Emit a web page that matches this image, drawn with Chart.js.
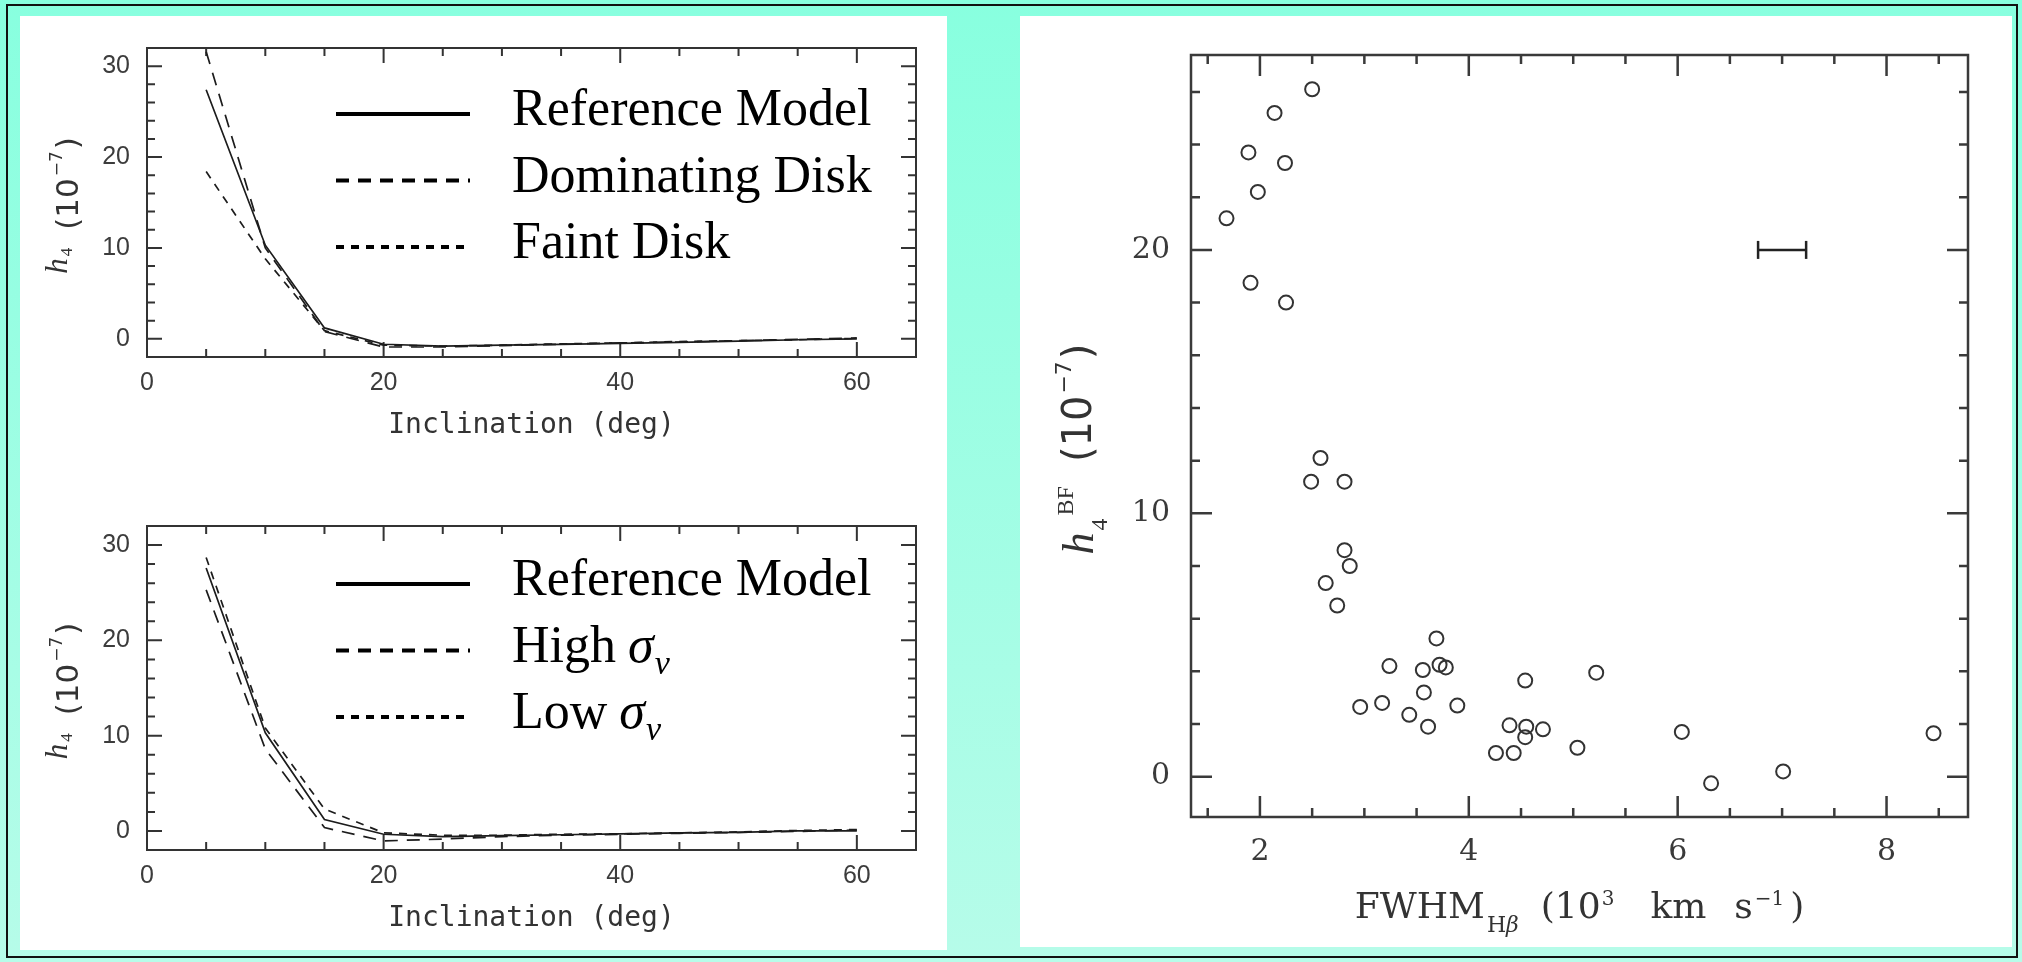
<!DOCTYPE html>
<html><head><meta charset="utf-8">
<script src="https://cdn.jsdelivr.net/npm/chart.js@4.4.0/dist/chart.umd.min.js"></script>
<style>
html,body{margin:0;padding:0;}
body{width:2022px;height:962px;position:relative;overflow:hidden;background:linear-gradient(to bottom,#88FFDF 0%,#B6FCE9 100%);}
#frame{position:absolute;left:6px;top:4px;width:2012px;height:954px;border:2px solid #111;box-sizing:border-box;}
.panel{position:absolute;background:#fff;}
#p1{left:20px;top:16px;width:927px;height:934px;}
#p2{left:1020px;top:16px;width:992px;height:931px;}
canvas{position:absolute;left:0;}
</style></head>
<body>
<div id="frame"></div>
<div class="panel" id="p1">
  <canvas id="c1" width="927" height="464" style="top:0;width:927px;height:464px"></canvas>
  <canvas id="c2" width="927" height="470" style="top:464px;width:927px;height:470px"></canvas>
</div>
<div class="panel" id="p2">
  <canvas id="c3" width="992" height="931" style="top:0;width:992px;height:931px"></canvas>
</div>
<script>
// ---------------- DATA ----------------
const inclination = [5, 10, 15, 20, 25, 30, 35, 40, 45, 50, 55, 60];
const refModelTop  = [27.4, 10.3, 1.2, -0.6, -0.8, -0.7, -0.6, -0.5, -0.4, -0.25, -0.1, 0.0];
const domDisk      = [31.6, 10.0, 0.8, -0.9, -0.9, -0.75, -0.6, -0.45, -0.35, -0.2, -0.05, 0.1];
const faintDisk    = [18.4, 8.8, 0.9, -0.7, -0.8, -0.7, -0.55, -0.45, -0.3, -0.2, -0.1, 0.05];
const refModelBot  = [27.6, 10.3, 1.2, -0.35, -0.6, -0.5, -0.4, -0.3, -0.2, -0.15, 0.0, 0.0];
const highSigma    = [25.3, 8.6, 0.35, -1.05, -0.85, -0.6, -0.45, -0.35, -0.25, -0.15, -0.05, 0.1];
const lowSigma     = [28.7, 10.8, 2.3, -0.2, -0.45, -0.45, -0.35, -0.3, -0.2, -0.1, 0.05, 0.15];
const inclTicks = [0, 20, 40, 60];
const h4Ticks = [0, 10, 20, 30];

const fwhm = [2.50, 2.14, 1.89, 2.24, 1.98, 1.68, 1.91, 2.25, 2.58, 2.49, 2.81, 2.81, 2.86, 2.63, 2.74,
              3.69, 3.24, 3.56, 3.72, 3.78, 5.22, 4.54, 3.57, 2.96, 3.17, 3.89, 3.43, 3.61, 4.39, 4.55,
              4.71, 4.54, 4.26, 4.43, 5.04, 6.04, 8.45, 6.32, 7.01];
const h4bf = [26.1, 25.2, 23.7, 23.3, 22.2, 21.2, 18.75, 18.0, 12.1, 11.2, 11.2, 8.6, 8.0, 7.35, 6.5,
              5.25, 4.2, 4.05, 4.25, 4.15, 3.95, 3.65, 3.2, 2.65, 2.8, 2.7, 2.35, 1.9, 1.95, 1.9,
              1.8, 1.5, 0.9, 0.9, 1.1, 1.7, 1.65, -0.25, 0.2];
const fwhmTicks = [2, 4, 6, 8];
const h4bfTicks = [0, 10, 20];
const errBarX = [6.77, 7.23];
const errBarY = [20, 20];

// ---------------- HELPERS ----------------
function drawRich(ctx, pieces, x, y, rotate) {
  let total = 0;
  const ws = pieces.map(p => { ctx.font = p.f; const w = ctx.measureText(p.t).width; total += (p.gap || 0) + w; return w; });
  ctx.save();
  ctx.translate(x, y);
  if (rotate) ctx.rotate(-Math.PI / 2);
  ctx.textBaseline = 'alphabetic';
  ctx.textAlign = 'left';
  let cx = -total / 2;
  pieces.forEach((p, i) => {
    cx += (p.gap || 0);
    ctx.font = p.f;
    ctx.fillText(p.t, cx, p.dy || 0);
    cx += ws[i];
  });
  ctx.restore();
}

const frameTicks = {
  id: 'frameTicks',
  beforeDatasetsDraw(chart, args, o) {
    const { ctx, chartArea: a, scales: { x, y } } = chart;
    ctx.save();
    ctx.strokeStyle = o.color;
    ctx.lineWidth = o.width;
    ctx.lineCap = 'butt';
    ctx.strokeRect(a.left, a.top, a.right - a.left, a.bottom - a.top);
    const isMajor = (list, v) => list.some(m => Math.abs(m - v) < 1e-6);
    ctx.beginPath();
    for (let k = Math.ceil(x.min / o.xMinor - 1e-9); k * o.xMinor <= x.max + 1e-9; k++) {
      const v = k * o.xMinor, px = x.getPixelForValue(v);
      const len = isMajor(o.xMajor, v) ? o.majorLen : o.minorLen;
      ctx.moveTo(px, a.bottom); ctx.lineTo(px, a.bottom - len);
      ctx.moveTo(px, a.top); ctx.lineTo(px, a.top + len);
    }
    for (let k = Math.ceil(y.min / o.yMinor - 1e-9); k * o.yMinor <= y.max + 1e-9; k++) {
      const v = k * o.yMinor, py = y.getPixelForValue(v);
      const len = isMajor(o.yMajor, v) ? o.majorLen : o.minorLen;
      ctx.moveTo(a.left, py); ctx.lineTo(a.left + len, py);
      ctx.moveTo(a.right, py); ctx.lineTo(a.right - len, py);
    }
    ctx.stroke();
    ctx.restore();
  },
  afterDraw(chart, args, o) {
    const { ctx, chartArea: a } = chart;
    ctx.save();
    ctx.fillStyle = o.titleColor;
    if (o.xTitle) drawRich(ctx, o.xTitle, (a.left + a.right) / 2, a.bottom + o.xTitleOffset, false);
    if (o.yTitle) drawRich(ctx, o.yTitle, a.left - o.yTitleOffset, (a.top + a.bottom) / 2 + o.yTitleShift, true);
    if (o.legend) {
      const L = o.legend;
      chart.data.datasets.forEach((ds, i) => {
        const ly = a.top + L.top + i * L.step;
        ctx.save();
        ctx.strokeStyle = '#000';
        ctx.lineWidth = L.lineWidth;
        ctx.setLineDash(ds.legendDash || []);
        ctx.beginPath();
        ctx.moveTo(a.left + L.lineX, ly);
        ctx.lineTo(a.left + L.lineX + L.lineLen, ly);
        ctx.stroke();
        ctx.restore();
        ctx.fillStyle = '#000';
        ctx.textBaseline = 'alphabetic';
        ctx.textAlign = 'left';
        const tx = a.left + L.textX, ty = ly + L.textDy;
        const idx = ds.label.indexOf('σ');
        if (idx < 0) {
          ctx.font = L.font;
          ctx.fillText(ds.label, tx, ty);
        } else {
          const before = ds.label.slice(0, idx).trimEnd();
          const after = ds.label.slice(idx + 1);
          ctx.font = L.font;
          ctx.fillText(before, tx, ty);
          let cx = tx + ctx.measureText(before).width + 12;
          ctx.font = 'italic ' + L.font;
          ctx.fillText('σ', cx, ty);
          cx += ctx.measureText('σ').width + 1;
          ctx.font = L.subFont;
          ctx.fillText(after, cx, ty + 12);
        }
      });
    }
    ctx.restore();
  }
};

const LONG = [13, 9], SHORT = [8, 7];

function mkLine(label, values, dash) {
  return {
    label, data: inclination.map((x, i) => ({ x, y: values[i] })),
    borderColor: '#1c1c1c', borderWidth: 1.7, borderDash: dash, legendDash: dash,
    pointRadius: 0, fill: false, tension: 0
  };
}

const tickFontL = { family: 'Liberation Sans', size: 25 };
const yTitleL = [
  { t: 'h', f: 'italic 31px "Liberation Serif"', dy: -5 },
  { t: '4', f: '17px "Liberation Serif"', dy: 0, gap: 2 },
  { t: '(10', f: '31px "DejaVu Sans"', dy: 6, gap: 18 },
  { t: '\u22127', f: '17px "DejaVu Sans"', dy: -10, gap: 2 },
  { t: ')', f: '31px "DejaVu Sans"', dy: 6, gap: 2 }
];
const xTitleL = [{ t: 'Inclination (deg)', f: '28px "DejaVu Sans Mono"' }];

function leftChart(id, datasets, padTop, padBottom, legendTop) {
  return new Chart(document.getElementById(id), {
    type: 'line',
    data: { datasets },
    plugins: [frameTicks],
    options: {
      responsive: false, animation: false,
      layout: { padding: { left: 27, right: 31, top: padTop, bottom: padBottom } },
      plugins: {
        legend: { display: false }, tooltip: { enabled: false },
        frameTicks: {
          color: '#333', width: 2, majorLen: 15, minorLen: 8,
          xMajor: inclTicks, xMinor: 5, yMajor: h4Ticks, yMinor: 2,
          titleColor: '#333',
          xTitle: xTitleL, xTitleOffset: 76,
          yTitle: yTitleL, yTitleOffset: 75, yTitleShift: 3,
          legend: { top: legendTop, step: 66.5, lineX: 189, lineLen: 134, textX: 365, textDy: 11,
                    lineWidth: 4, font: '52px "Liberation Serif"', subFont: 'italic 34px "Liberation Serif"' }
        }
      },
      scales: {
        x: {
          type: 'linear', min: 0, max: 65,
          afterBuildTicks: s => { s.ticks = inclTicks.map(v => ({ value: v })); },
          afterFit: s => { s.height = 60; },
          grid: { display: false, drawTicks: false }, border: { display: false },
          ticks: { font: tickFontL, color: '#3c3c3c', padding: 11, maxRotation: 0, autoSkip: false }
        },
        y: {
          type: 'linear', min: -2, max: 32,
          afterBuildTicks: s => { s.ticks = h4Ticks.map(v => ({ value: v })); },
          afterFit: s => { s.width = 100; },
          grid: { display: false, drawTicks: false }, border: { display: false },
          ticks: { font: tickFontL, color: '#3c3c3c', padding: 17, autoSkip: false }
        }
      }
    }
  });
}

leftChart('c1', [
  mkLine('Reference Model', refModelTop, []),
  mkLine('Dominating Disk', domDisk, LONG),
  mkLine('Faint Disk', faintDisk, SHORT)
], 17, 63, 66);

leftChart('c2', [
  mkLine('Reference Model', refModelBot, []),
  mkLine('High σv', highSigma, LONG),
  mkLine('Low σv', lowSigma, SHORT)
], 46, 40, 58);

// ---------------- RIGHT CHART ----------------
const tickFontR = { family: 'DejaVu Serif', size: 30 };
new Chart(document.getElementById('c3'), {
  type: 'scatter',
  data: {
    datasets: [
      {
        label: 'h4BF', data: fwhm.map((x, i) => ({ x, y: h4bf[i] })),
        pointStyle: 'circle', pointRadius: 7, pointBorderWidth: 2,
        borderColor: '#333', backgroundColor: 'rgba(0,0,0,0)', showLine: false
      },
      {
        type: 'line', label: 'error', data: errBarX.map((x, i) => ({ x, y: errBarY[i] })),
        showLine: true, borderColor: '#222', borderWidth: 2.5, fill: false,
        pointStyle: 'line', rotation: 90, pointRadius: 9, pointBorderWidth: 2.5, pointBorderColor: '#222'
      }
    ]
  },
  plugins: [frameTicks],
  options: {
    responsive: false, animation: false,
    layout: { padding: { left: 71, right: 44, top: 25, bottom: 70 } },
    plugins: {
      legend: { display: false }, tooltip: { enabled: false },
      frameTicks: {
        color: '#3a3a3a', width: 2.5, majorLen: 21, minorLen: 9,
        xMajor: fwhmTicks, xMinor: 0.5, yMajor: h4bfTicks, yMinor: 2,
        titleColor: '#333',
        xTitle: [
          { t: 'FWHM', f: '36px "DejaVu Serif"' },
          { t: 'H', f: '22px "DejaVu Serif"', dy: 14, gap: 2 },
          { t: '\u03b2', f: 'italic 22px "DejaVu Serif"', dy: 14, gap: 0 },
          { t: '(10', f: '36px "DejaVu Serif"', gap: 22 },
          { t: '3', f: '20px "DejaVu Serif"', dy: -13, gap: 1 },
          { t: 'km', f: '36px "DejaVu Serif"', gap: 36 },
          { t: 's', f: '36px "DejaVu Serif"', gap: 28 },
          { t: '\u22121', f: '20px "DejaVu Serif"', dy: -13, gap: 2 },
          { t: ')', f: '36px "DejaVu Serif"', gap: 6 }
        ],
        xTitleOffset: 101,
        yTitle: [
          { t: 'h', f: 'italic 44px "Liberation Serif"', dy: 0 },
          { t: '4', f: '24px "Liberation Serif"', dy: 14, gap: 2 },
          { t: 'BF', f: '24px "Liberation Serif"', dy: -20, gap: 3 },
          { t: '(10', f: '40px "DejaVu Sans"', dy: -2, gap: 24 },
          { t: '\u22127', f: '22px "DejaVu Sans"', dy: -22, gap: 2 },
          { t: ')', f: '40px "DejaVu Sans"', dy: -2, gap: 2 }
        ],
        yTitleOffset: 98, yTitleShift: 13
      }
    },
    scales: {
      x: {
        type: 'linear', min: 1.34, max: 8.78,
        afterBuildTicks: s => { s.ticks = fwhmTicks.map(v => ({ value: v })); },
        afterFit: s => { s.height = 60; },
        grid: { display: false, drawTicks: false }, border: { display: false },
        ticks: { font: tickFontR, color: '#3a3a3a', padding: 17, maxRotation: 0, autoSkip: false }
      },
      y: {
        type: 'linear', min: -1.53, max: 27.4,
        afterBuildTicks: s => { s.ticks = h4bfTicks.map(v => ({ value: v })); },
        afterFit: s => { s.width = 100; },
        grid: { display: false, drawTicks: false }, border: { display: false },
        ticks: { font: tickFontR, color: '#3a3a3a', padding: 21, autoSkip: false }
      }
    }
  }
});
</script>
</body></html>
